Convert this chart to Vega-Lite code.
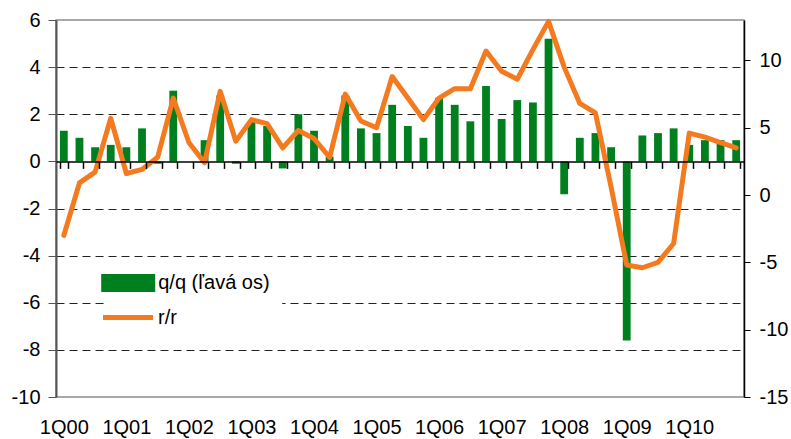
{
  "$schema": "https://vega.github.io/schema/vega-lite/v6.json",
  "width": 688,
  "height": 377,
  "autosize": {"type": "none"},
  "padding": {"left": 56, "top": 20, "right": 47, "bottom": 42},
  "config": {
    "font": "Liberation Sans",
    "view": {"stroke": "#8c8c8c", "strokeWidth": 1.5},
    "axis": {"labelFont": "Liberation Sans", "labelFontSize": 20, "labelColor": "black"},
    "legend": {"labelFont": "Liberation Sans", "labelFontSize": 20, "labelColor": "black"}
  },
  "data": {
    "values": [
      {"q": "1Q00", "qq": 1.3, "rr": -3.0},
      {"q": "2Q00", "qq": 1.0, "rr": 0.9},
      {"q": "3Q00", "qq": 0.6, "rr": 1.7},
      {"q": "4Q00", "qq": 0.7, "rr": 5.7},
      {"q": "1Q01", "qq": 0.6, "rr": 1.6},
      {"q": "2Q01", "qq": 1.4, "rr": 1.9},
      {"q": "3Q01", "qq": -0.1, "rr": 2.8},
      {"q": "4Q01", "qq": 3.0, "rr": 7.2},
      {"q": "1Q02", "qq": 0.0, "rr": 3.9},
      {"q": "2Q02", "qq": 0.9, "rr": 2.4},
      {"q": "3Q02", "qq": 2.8, "rr": 7.7},
      {"q": "4Q02", "qq": -0.1, "rr": 4.0},
      {"q": "1Q03", "qq": 1.7, "rr": 5.6},
      {"q": "2Q03", "qq": 1.5, "rr": 5.3},
      {"q": "3Q03", "qq": -0.3, "rr": 3.5},
      {"q": "4Q03", "qq": 2.0, "rr": 4.8},
      {"q": "1Q04", "qq": 1.3, "rr": 4.2},
      {"q": "2Q04", "qq": 0.2, "rr": 2.8},
      {"q": "3Q04", "qq": 2.8, "rr": 7.5},
      {"q": "4Q04", "qq": 1.4, "rr": 5.5},
      {"q": "1Q05", "qq": 1.2, "rr": 5.0},
      {"q": "2Q05", "qq": 2.4, "rr": 8.8},
      {"q": "3Q05", "qq": 1.5, "rr": 7.2},
      {"q": "4Q05", "qq": 1.0, "rr": 5.6},
      {"q": "1Q06", "qq": 2.7, "rr": 7.2},
      {"q": "2Q06", "qq": 2.4, "rr": 7.9},
      {"q": "3Q06", "qq": 1.7, "rr": 7.9},
      {"q": "4Q06", "qq": 3.2, "rr": 10.7},
      {"q": "1Q07", "qq": 1.8, "rr": 9.2},
      {"q": "2Q07", "qq": 2.6, "rr": 8.6},
      {"q": "3Q07", "qq": 2.5, "rr": 10.8},
      {"q": "4Q07", "qq": 5.2, "rr": 12.9},
      {"q": "1Q08", "qq": -1.4, "rr": 9.5},
      {"q": "2Q08", "qq": 1.0, "rr": 6.8},
      {"q": "3Q08", "qq": 1.2, "rr": 6.1},
      {"q": "4Q08", "qq": 0.6, "rr": 0.6},
      {"q": "1Q09", "qq": -7.6, "rr": -5.2},
      {"q": "2Q09", "qq": 1.1, "rr": -5.4},
      {"q": "3Q09", "qq": 1.2, "rr": -5.0},
      {"q": "4Q09", "qq": 1.4, "rr": -3.6},
      {"q": "1Q10", "qq": 0.7, "rr": 4.6},
      {"q": "2Q10", "qq": 0.9, "rr": 4.3},
      {"q": "3Q10", "qq": 0.9, "rr": 3.9},
      {"q": "4Q10", "qq": 0.9, "rr": 3.5}
    ]
  },
  "encoding": {
    "x": {
      "field": "q",
      "type": "ordinal",
      "sort": null,
      "scale": {"paddingInner": 0.5, "paddingOuter": 0.25},
      "axis": {
        "title": null,
        "orient": "bottom",
        "offset": -235.625,
        "zindex": 1,
        "tickBand": "extent",
        "tickSize": 7,
        "tickColor": "black",
        "tickWidth": 1.5,
        "domainColor": "black",
        "domainWidth": 1.5,
        "labelPadding": 249,
        "labelAngle": 0,
        "labelOverlap": false,
        "labelExpr": "indexof(datum.label, '1Q') === 0 ? datum.label : ''",
        "grid": false
      }
    }
  },
  "layer": [
    {
      "mark": {"type": "bar"},
      "encoding": {
        "y": {
          "field": "qq",
          "type": "quantitative",
          "scale": {"domain": [-10, 6], "nice": false},
          "axis": {
            "title": null,
            "orient": "left",
            "values": [-10, -8, -6, -4, -2, 0, 2, 4, 6],
            "labelExpr": "toString(datum.value)",
            "tickSize": 8,
            "tickColor": "#555555",
            "domainColor": "#555555",
            "domainWidth": 2,
            "labelPadding": 8,
            "grid": true,
            "gridColor": "#222222",
            "gridDash": [8, 5],
            "gridWidth": 1,
            "gridOpacity": {"condition": {"test": "datum.value === 0 || datum.value === 6 || datum.value === -10", "value": 0}, "value": 1}
          }
        },
        "fill": {
          "datum": "q/q (ľavá os)",
          "scale": {"range": ["#007f1f"]},
          "legend": {
            "title": null,
            "orient": "none",
            "legendX": 50.2,
            "legendY": 241,
            "symbolType": "M-3,-1H3V1H-3Z",
            "symbolSize": 324,
            "symbolStrokeWidth": 0,
            "symbolOpacity": 1,
            "labelOffset": 20,
            "padding": 12,
            "fillColor": "white"
          }
        }
      }
    },
    {
      "mark": {"type": "line", "strokeWidth": 5, "strokeJoin": "round", "strokeCap": "round"},
      "encoding": {
        "y": {
          "field": "rr",
          "type": "quantitative",
          "scale": {"domain": [-15, 13], "nice": false},
          "axis": {
            "title": null,
            "orient": "right",
            "values": [-15, -10, -5, 0, 5, 10],
            "labelExpr": "toString(datum.value)",
            "tickSize": 6,
            "tickColor": "black",
            "domainColor": "black",
            "domainWidth": 1.5,
            "labelPadding": 9,
            "grid": false
          }
        },
        "stroke": {
          "datum": "r/r",
          "scale": {"range": ["#f47a20"]},
          "legend": {
            "title": null,
            "orient": "none",
            "legendX": 44.5,
            "legendY": 270,
            "symbolType": "stroke",
            "symbolSize": 2500,
            "symbolStrokeWidth": 5,
            "labelOffset": 2.5,
            "padding": 0
          }
        }
      }
    }
  ],
  "resolve": {"scale": {"y": "independent"}}
}
